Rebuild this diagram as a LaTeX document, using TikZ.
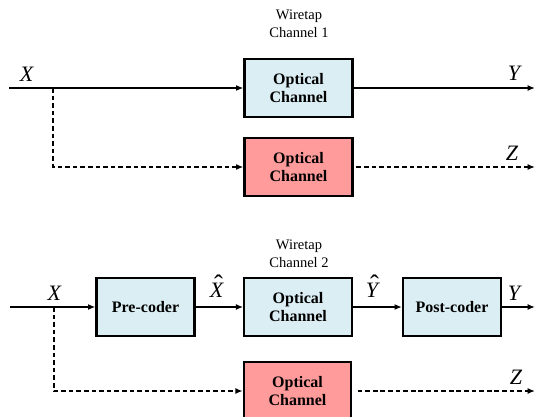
\documentclass[tikz,border=0pt]{standalone}
\usepackage{fontspec}
\setmainfont{Liberation Serif}
\usetikzlibrary{arrows.meta}
\definecolor{bluef}{HTML}{DBEEF3}
\definecolor{redf}{HTML}{FF9B9B}
\newcommand{\hatted}[1]{\ooalign{\textit{#1}\cr\hidewidth\kern0.15em\raisebox{2.8pt}{\fontsize{20}{20}\selectfont\char"02C6}\hidewidth\cr}}
\begin{document}
\begin{tikzpicture}[x=0.75pt,y=-0.75pt,
  blk/.style={draw=black, line width=1.7pt, fill=bluef, minimum height=43.5pt, inner sep=0pt, align=center,
    font=\fontsize{12}{14}\selectfont\bfseries},
  redblk/.style={blk, fill=redf},
  ttl/.style={align=center, inner sep=0pt, font=\fontsize{10.9}{13.5}\selectfont},
  lbl/.style={inner sep=0pt, font=\fontsize{16.5}{18}\selectfont},
  sig/.style={line width=1.3pt, -{Latex[length=5.5pt,width=4.5pt]}},
  tap/.style={sig, dash pattern=on 3.5pt off 2.2pt}
]
\useasboundingbox (0,0) rectangle (535,417);
\clip (0,0) rectangle (535,417);
% ---------- top diagram ----------
\node[ttl] (t1) at (299,24) {Wiretap\\Channel 1};
\node[blk, minimum width=81pt] (oc1) at (298.5,88) {Optical\\Channel};
\node[redblk, minimum width=81pt] (rc1) at (298.5,167) {Optical\\Channel};
\coordinate (in1) at (9,88);
\coordinate (br1) at (53,88);
\coordinate (bd1) at (53,167);
\coordinate (out1) at (535,88);
\coordinate (zout1) at (535,167);
\draw[sig] (in1) -- (oc1.west);
\draw[sig] (oc1.east) -- (out1);
\draw[tap] (br1) -- (bd1) -- (rc1.west);
\draw[tap, shorten <=2pt] (rc1.east) -- (zout1);
\node[lbl] (x1) at (27,74) {\textit{X}};
\node[lbl] (y1) at (515,73) {\textit{Y}};
\node[lbl] (z1) at (512,153) {\textit{Z}};
% ---------- bottom diagram ----------
\node[ttl] (t2) at (299,254) {Wiretap\\Channel 2};
\node[blk, minimum width=73.5pt] (pre) at (145.5,307) {Pre-coder};
\node[blk, minimum width=80.5pt] (oc2) at (298,307) {Optical\\Channel};
\node[blk, minimum width=73.5pt] (post) at (452,307) {Post-coder};
\node[redblk, minimum width=80.5pt] (rc2) at (297.5,391) {Optical\\Channel};
\coordinate (in2) at (10,307);
\coordinate (br2) at (54,307);
\coordinate (bd2) at (54,391);
\coordinate (out2) at (535,307);
\coordinate (zout2) at (535,391);
\draw[sig] (in2) -- (pre.west);
\draw[sig] (pre.east) -- (oc2.west);
\draw[sig] (oc2.east) -- (post.west);
\draw[sig] (post.east) -- (out2);
\draw[tap] (br2) -- (bd2) -- (rc2.west);
\draw[tap, shorten <=4pt] (rc2.east) -- (zout2);
\node[lbl] (x2) at (54.6,293) {\textit{X}};
\node[lbl, anchor=base] (xh) at (217,297) {\hatted{X}};
\node[lbl, anchor=base] (yh) at (373,297) {\hatted{Y}};
\node[lbl] (y2) at (515,293) {\textit{Y}};
\node[lbl] (z2) at (516,377) {\textit{Z}};
\end{tikzpicture}
\end{document}
